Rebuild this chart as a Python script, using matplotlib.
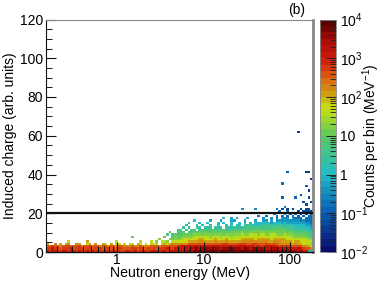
#!/usr/bin/env python3
import numpy as np
import matplotlib
matplotlib.use('Agg')
import matplotlib.pyplot as plt
from matplotlib.colors import LinearSegmentedColormap, LogNorm
from matplotlib.ticker import FixedLocator, NullFormatter, FixedFormatter

plt.rcParams['font.family'] = ['Liberation Sans', 'DejaVu Sans']
plt.rcParams['mathtext.fontset'] = 'custom'
plt.rcParams['mathtext.rm'] = 'Liberation Sans'
plt.rcParams['mathtext.default'] = 'regular'

# counts, one string per charge bin (bottom row first).
# each char is a colour level, quarter decades starting from 10^-2, '.' = empty
LEVELS = "0123456789abcdefghijklmno"
E = ".........."
ROWS = [
    "kjkkjjkkjk kjkjjkjkjk jjkjjkjjij kjjkijkjjk kkjkkjkkkl lllmlmmnmn nnonmnonnn nmnonnmono nnmnmnnmnn mnmmlmkk89",
    "jjkjjijjjk ijjjijjijj jijjijijii iijjijiiji jijjjkjjkk kkkkllmlmm mmnmmlmmmn mmmlmmlmnm mmlllmllkl lkkklkjiih",
    "iijiihiiji iijhiijiii hiihiihiih hhihhihhhi iihiiiiiij kkkkkkkkkk kkllkkkkkl kkklkkkkjk jjkkkkjjjj jjiijihhgf",
    "g..h.g.gh. .hg..fg.h. .gf.g.ff.f .ef.gf.e.f ef.fgfghhh hhhiiiiiii iiiiiijjii iijjjiijji iijiiiihhh hgghggffed",
    "........f. .....g.... ......e... .....e...e .d.eed.eef effgggghhg ggghggghgg ggghhhhhhh hhhgghhhgg ggfggfffee",
    f"{E} {E} {E} {E} ..d...dcdd deeefffggf fffgfffgff fffgggggfg ggggfggggg fffeefeedd",
    f"{E} {E} {E} ..c....... ....c..bcc cddddeeeee edeeedeeed eeeeffeeff ffeefeefee eedddddccb",
    f"{E} {E} {E} {E} .....b.bcb bccccdddcd ddcdddcddd dddeddeeed eeddeeddde dddcccccba",
    f"{E} {E} {E} {E} ......b..b bb.bbcbccc cbccbcccbc cccdccdccc ddcdddcccd cccbbbbba9",
    f"{E} {E} {E} {E} .........a a.a.ab.abb abbbabbaba bbbbcbbbcc cbccbccccc bbbaaaa998",
    f"{E} {E} {E} {E} {E} .a.9..a9.a 9a.a9a.a99 aa9aabaaab aabbabbbba aaa9999887",
    f"{E} {E} {E} {E} {E} ..9...9.9. .9..9..9.9 .99.99a989 9a9aa99a99 9998888776",
    f"{E} {E} {E} {E} {E} ...8...8.. 8...8.8..8 ..8.8.8.88 8889788878 7777777665",
    f"{E} {E} {E} {E} {E} .....8.... .7...7...7 7...7...7. .77.7.6767 6666656555",
    f"{E} {E} {E} {E} {E} {E} ......8..7 .7...7.... .6..6.5.66 6.6555.555",
    f"{E} {E} {E} {E} {E} {E} {E} .........5 ..5...5.5. 4.5.4.4.45",
    f"{E} {E} {E} {E} {E} {E} {E} {E} .....4...5 .4.4.3.3.4",
    f"{E} {E} {E} {E} {E} {E} {E} {E} .......4.. 4...3.3333",
    f"{E} {E} {E} {E} {E} {E} {E} ...6....6. ......5.3. 3.3..3.33.",
]

# isolated bins above the main band
OUT_COL = [89, 88, 93, 95, 98, 97, 98, 97, 99, 88, 90, 97, 98, 94, 96, 99]
OUT_ROW = [19, 23, 23, 24, 23, 20, 26, 28, 31, 29, 34, 34, 34, 51, 21, 21]
OUT_LEV = [5, 4, 4, 3, 3, 3, 2, 4, 2, 5, 4, 2, 2, 3, 3, 3]

CMAP_POS = [0, 1 / 6, 2 / 6, 0.5, 0.62, 4 / 6, 0.75, 5 / 6, 0.92, 1]
CMAP_COLORS = ['#0a0f6e', '#0a60b4', '#22bcc8', '#5cc860', '#c8e010',
               '#c8b010', '#dc6810', '#d01c0c', '#a80c08', '#5a0000']

THRESHOLD = 20
NBINS = 100
XMIN, XMAX = 0.15, 185.0
YMAX = 120.0

# fill the histogram from the rows
counts = np.full((NBINS, NBINS), np.nan)
for r, row in enumerate(ROWS):
    for c, ch in enumerate(row.replace(' ', '')):
        if ch != '.':
            counts[r, c] = 10.0 ** (-2 + 0.25 * LEVELS.index(ch))
for c, r, lev in zip(OUT_COL, OUT_ROW, OUT_LEV):
    counts[r, c] = 10.0 ** (-2 + 0.25 * lev)

xedges = np.logspace(np.log10(XMIN), np.log10(XMAX), NBINS + 1)
yedges = np.linspace(0, YMAX, NBINS + 1)

cmap = LinearSegmentedColormap.from_list('rootish', list(zip(CMAP_POS, CMAP_COLORS)), N=36)
norm = LogNorm(vmin=1e-2, vmax=1e4)

W, H = 382, 286
fig = plt.figure(figsize=(W / 100, H / 100), dpi=100)
ax = fig.add_axes([46 / W, (H - 252) / H, 267 / W, 232.5 / H])
cax = fig.add_axes([320 / W, (H - 252) / H, 16 / W, 232.5 / H])

mesh = ax.pcolormesh(xedges, yedges, counts, cmap=cmap, norm=norm, linewidth=0, rasterized=True)
ax.axhline(THRESHOLD, color='#111111', lw=1.6, zorder=5)

ax.set_xscale('log')
ax.set_xlim(XMIN, XMAX)
ax.set_ylim(0, YMAX)
ax.set_xlabel('Neutron energy (MeV)', fontsize=10.2, labelpad=-1)
ax.set_ylabel('Induced charge (arb. units)', fontsize=10, labelpad=2)

ax.xaxis.set_major_locator(FixedLocator([1, 10, 100]))
ax.xaxis.set_major_formatter(FixedFormatter(['1', '10', '100']))
minors = [m * 10.0 ** e for e in (-1, 0, 1, 2) for m in range(2, 10)]
ax.xaxis.set_minor_locator(FixedLocator([m for m in minors if XMIN <= m <= XMAX]))
ax.xaxis.set_minor_formatter(NullFormatter())
ax.set_yticks(np.arange(0, 121, 20))
ax.set_yticks(np.arange(0, 121, 5), minor=True)

ax.tick_params(axis='both', which='major', direction='in', length=7, width=0.8, labelsize=10, pad=2, color='#111111')
ax.tick_params(axis='x', which='major', pad=1)
ax.tick_params(axis='both', which='minor', direction='in', length=4, width=0.7, color='#111111')
for side in ('top', 'right'):
    ax.spines[side].set_color('#888888')
ax.spines['right'].set_linewidth(2)
ax.spines['top'].set_linewidth(0.8)
ax.spines['left'].set_color('#111111')
ax.spines['bottom'].set_color('#111111')
ax.spines['bottom'].set_linewidth(1.0)

ax.text(0.97, 1.012, '(b)', transform=ax.transAxes, ha='right', va='bottom', fontsize=10)

cb = fig.colorbar(mesh, cax=cax)
cb.outline.set_edgecolor('#888888')
cb.outline.set_linewidth(0.6)
cb.set_ticks([1e-2, 1e-1, 1, 10, 1e2, 1e3, 1e4])
cb.set_ticklabels(['$10^{-2}$', '$10^{-1}$', '1', '10', '$10^{2}$', '$10^{3}$', '$10^{4}$'])
cb_minors = [m * 10.0 ** e for e in range(-2, 4) for m in range(2, 10)]
cax.yaxis.set_minor_locator(FixedLocator(cb_minors))
cax.yaxis.set_minor_formatter(NullFormatter())
cax.tick_params(axis='y', which='major', direction='in', length=7, width=0.7, labelsize=10, pad=3, color='#222222', right=True, left=False)
cax.tick_params(axis='y', which='minor', direction='in', length=4, width=0.6, color='#222222', right=True, left=False)
cb.set_label('Counts per bin (MeV$^{-1}$)', fontsize=10, va='center')
cax.yaxis.set_label_coords(3.22, 0.5)

fig.savefig('out.png', dpi=100)
